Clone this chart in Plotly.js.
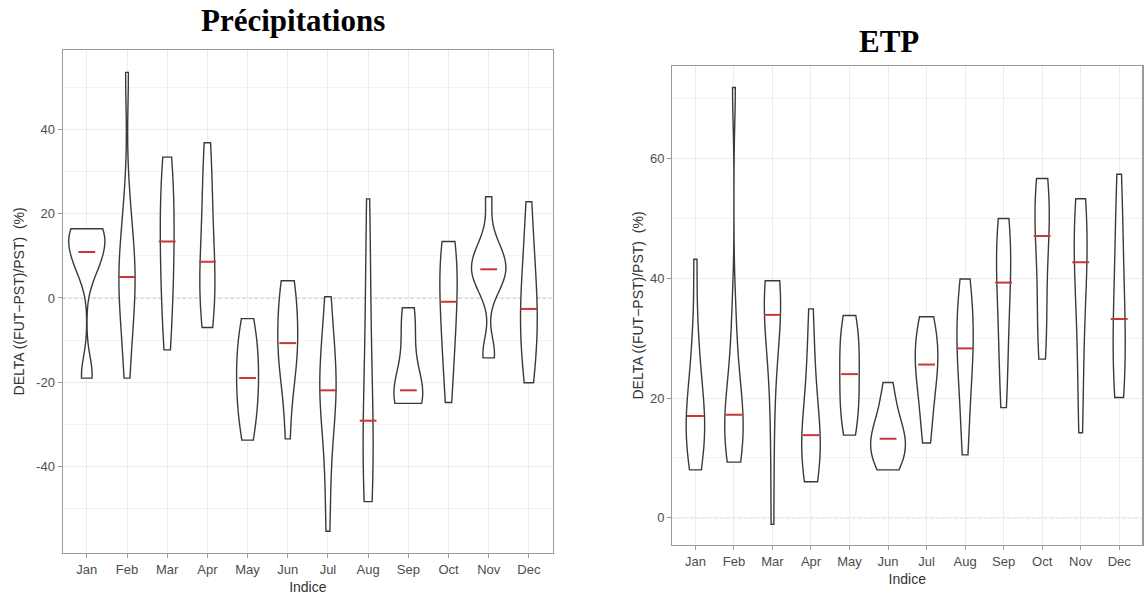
<!DOCTYPE html>
<html>
<head>
<meta charset="utf-8">
<script src="https://cdn.plot.ly/plotly-3.0.1.min.js"></script>
<style>
  html, body { margin: 0; padding: 0; background: #ffffff; }
  #chart { width: 1145px; height: 599px; }
</style>
</head>
<body>
<div id="chart"></div>
<script>
// Month categories shared by both panels
const months = ['Jan', 'Feb', 'Mar', 'Apr', 'May', 'Jun', 'Jul', 'Aug', 'Sep', 'Oct', 'Nov', 'Dec'];

// Relative change of precipitation per month, one value per model run (%)
const precipDelta = [
  [16.4, 16.2, 15.9, 15.3, 14.2, 10.9, 9.8, 8.2, 6.0, -17.8, -19.0],
  [53.5, 23, 15, 11, 7.5, 5.0, 2.5, -1, -5, -11, -19],
  [33.4, 30, 26, 21.5, 17, 13.4, 9, 4.5, 0, -6, -12.3],
  [36.8, 31, 25, 19, 13, 8.6, 5, 2, -1, -4, -7],
  [-4.9, -8, -11, -13.5, -16.5, -19, -21.5, -24, -27, -30.5, -33.7],
  [4.1, 2.5, -0.5, -3.5, -7, -10.7, -12.5, -14.5, -17, -23, -33.4],
  [0.3, -7, -12.5, -16.5, -19.5, -21.9, -24, -27.5, -33, -43, -55.3],
  [23.5, 10, -2, -13, -22, -29.1, -34, -38.5, -42, -45.5, -48.3],
  [-2.3, -3.8, -7.5, -13, -18.5, -21.9, -22.8, -23.5, -24, -24.5, -25.0],
  [13.4, 12, 9.5, 6.5, 3, -0.9, -4, -7.5, -12, -18, -24.8],
  [24, 14, 11, 9, 7.8, 6.8, 5.5, 4, 1.5, -12.5, -14.2],
  [22.8, 15, 9, 4, 0.5, -2.6, -5.5, -8.5, -12, -16, -20.1]
];

// Relative change of potential evapotranspiration per month, one value per model run (%)
const etpDelta = [
  [43.2, 31, 25.5, 21.5, 19, 17.0, 15.5, 14, 12.3, 10.2, 8.0],
  [71.9, 34, 26, 22, 19.3, 17.2, 15.5, 14, 12.5, 11, 9.3],
  [39.6, 39.2, 38.5, 37.5, 36, 33.9, 31.5, 28, 22, 12, -1.1],
  [34.9, 28, 23, 19, 16, 13.8, 12.5, 11, 9.5, 8, 6.0],
  [33.8, 32, 30.2, 28.3, 26.2, 24.0, 21.8, 19.8, 17.8, 15.8, 13.8],
  [22.6, 19.5, 17, 15.3, 14.2, 13.2, 12.2, 11.2, 10.2, 9.1, 8.0],
  [33.6, 32, 30.2, 28.5, 27, 25.6, 24, 22, 19.5, 16, 12.5],
  [39.9, 37.5, 35, 33, 30.5, 28.3, 26.5, 24, 20, 15.5, 10.5],
  [50, 48.5, 46.5, 44.5, 42, 39.3, 36, 32, 28, 23, 18.4],
  [56.7, 55, 53.5, 51.5, 49.5, 47.1, 44, 37, 33.5, 30, 26.5],
  [53.3, 51.5, 49.5, 47.5, 45, 42.7, 39.5, 35, 29, 21.5, 14.2],
  [57.4, 51.5, 46, 41, 37, 33.2, 30, 27, 24.5, 22.3, 20.1]
];

// Axis breaks of each panel
const precipTicks = [-40, -20, 0, 20, 40];
const precipMinor = [-50, -30, -10, 10, 30, 50];
const etpTicks = [0, 20, 40, 60];
const etpMinor = [10, 30, 50, 70];

function median(arr) {
  const s = arr.slice().sort((a, b) => a - b);
  const m = Math.floor(s.length / 2);
  return s.length % 2 ? s[m] : (s[m - 1] + s[m]) / 2;
}

function flatten(samples) {
  const x = [], y = [];
  samples.forEach((vals, i) => vals.forEach(v => { x.push(months[i]); y.push(v); }));
  return { x, y };
}

function violinTrace(samples, xa, ya) {
  const d = flatten(samples);
  return {
    type: 'violin', x: d.x, y: d.y, xaxis: xa, yaxis: ya,
    spanmode: 'hard', points: false, width: 0.9, scalemode: 'width',
    box: { visible: false }, meanline: { visible: false },
    line: { color: '#3a3a3a', width: 1.4 }, fillcolor: '#ffffff',
    hoverinfo: 'skip', showlegend: false
  };
}

function medianTrace(samples, xa, ya) {
  return {
    type: 'scatter', mode: 'markers', x: months, y: samples.map(median),
    xaxis: xa, yaxis: ya,
    marker: { symbol: 'line-ew', size: 12, color: '#c8373a', line: { color: '#c8373a', width: 2 } },
    hoverinfo: 'skip', showlegend: false
  };
}

const tickFont = { family: 'Liberation Sans, Arial, sans-serif', size: 13, color: '#4d4d4d' };
const titleFont = { family: 'Liberation Sans, Arial, sans-serif', size: 14, color: '#333333' };

function xAxis(domain, anchor) {
  return {
    domain: domain, anchor: anchor, type: 'category', categoryarray: months,
    range: [-0.6, 11.6], showgrid: true, gridcolor: '#ececec', gridwidth: 1,
    showline: true, mirror: true, linecolor: '#9a9a9a', linewidth: 1.2,
    ticks: 'outside', ticklen: 4, tickcolor: '#9a9a9a', tickfont: tickFont,
    zeroline: false, fixedrange: true,
    title: { text: 'Indice', font: titleFont, standoff: 6 }
  };
}

function yAxis(domain, anchor, range, ticks, minorTicks, standoff) {
  return {
    domain: domain, anchor: anchor, range: range,
    tickmode: 'array', tickvals: ticks, ticktext: ticks.map(String),
    showgrid: true, gridcolor: '#ececec', gridwidth: 1,
    minor: { tickmode: 'array', tickvals: minorTicks, showgrid: true, gridcolor: '#f2f2f2', gridwidth: 1, ticks: '' },
    showline: true, mirror: true, linecolor: '#9a9a9a', linewidth: 1.2,
    ticks: 'outside', ticklen: 4, tickcolor: '#9a9a9a', tickfont: tickFont,
    zeroline: false, fixedrange: true,
    title: { text: 'DELTA ((FUT\u2212PST)/PST)  (%)', font: titleFont, standoff: standoff }
  };
}

const W = 1145, H = 599;
const data = [
  violinTrace(precipDelta, 'x', 'y'),
  violinTrace(etpDelta, 'x2', 'y2'),
  medianTrace(precipDelta, 'x', 'y'),
  medianTrace(etpDelta, 'x2', 'y2')
];

const layout = {
  width: W, height: H,
  margin: { l: 0, r: 0, t: 0, b: 0 },
  paper_bgcolor: '#ffffff', plot_bgcolor: '#ffffff',
  showlegend: false, hovermode: false,
  xaxis: xAxis([62.7 / W, 553 / W], 'y'),
  yaxis: yAxis([1 - 552.7 / H, 1 - 50 / H], 'x', [-60.4, 58.8], precipTicks, precipMinor, 8),
  xaxis2: xAxis([672.3 / W, 1142.3 / W], 'y2'),
  yaxis2: yAxis([1 - 545 / H, 1 - 66 / H], 'x2', [-4.56, 75.5], etpTicks, etpMinor, 3),
  shapes: [
    { type: 'line', xref: 'x domain', yref: 'y', x0: 0, x1: 1, y0: 0, y1: 0,
      line: { color: '#9a9a9a', width: 1, dash: 'dot' }, layer: 'below' },
    { type: 'line', xref: 'x2 domain', yref: 'y2', x0: 0, x1: 1, y0: 0, y1: 0,
      line: { color: '#9a9a9a', width: 1, dash: 'dot' }, layer: 'below' }
  ],
  annotations: [
    { text: '<b>Précipitations</b>', xref: 'paper', yref: 'paper',
      x: 293 / W, y: 1 - 21 / H, xanchor: 'center', yanchor: 'middle', showarrow: false,
      font: { family: 'Liberation Serif, Times New Roman, serif', size: 31, color: '#000000' } },
    { text: '<b>ETP</b>', xref: 'paper', yref: 'paper',
      x: 889 / W, y: 1 - 42 / H, xanchor: 'center', yanchor: 'middle', showarrow: false,
      font: { family: 'Liberation Serif, Times New Roman, serif', size: 31, color: '#000000' } }
  ]
};

Plotly.newPlot('chart', data, layout, { displayModeBar: false, staticPlot: true });
</script>
</body>
</html>
